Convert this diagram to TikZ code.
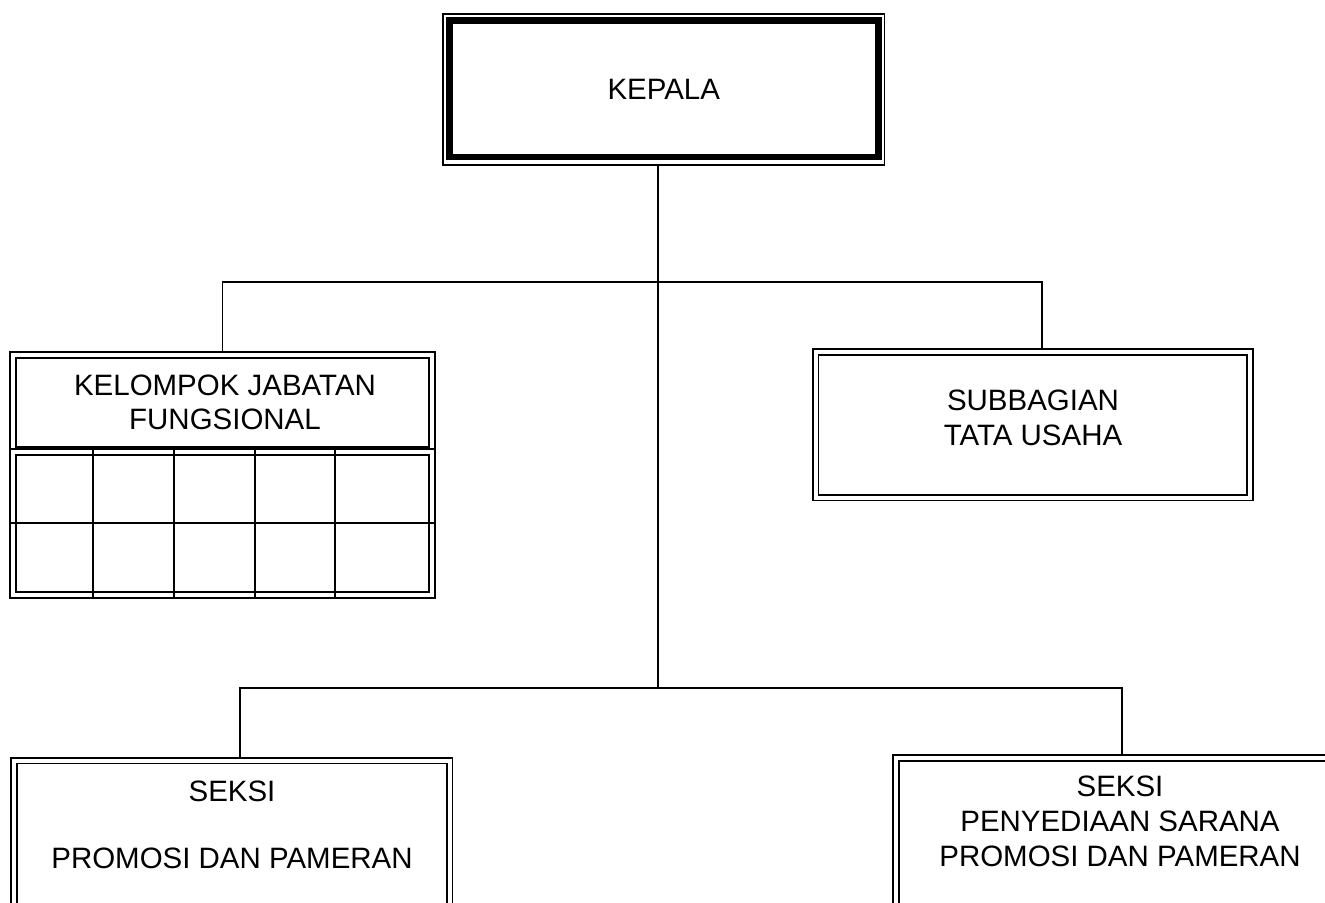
\documentclass[tikz,border=0pt]{standalone}
\usepackage{fontspec}
\setmainfont{Liberation Sans}
\def\px{0.75pt}
\begin{document}
\begin{tikzpicture}[x=0.75pt,y=-0.75pt,
  every node/.style={font=\fontsize{22.1}{26}\selectfont, align=center, inner sep=0pt},
  conn/.style={draw=black, line width=1.2pt},
  dbl/.style={draw=black, fill=white, line width=1.2pt, double=white, double distance=3pt, outer sep=2.7pt},
  kframe/.style={draw=black, fill=white, line width=1.2pt, outer sep=0pt},
  thickframe/.style={draw=black, line width=4.6pt},
  gridline/.style={draw=black, line width=1.2pt}]
\useasboundingbox (0,0) rectangle (1325,903);
\clip (0,0) rectangle (1325,903);

% junction coordinates
\coordinate (jt) at (658,282);
\coordinate (jb) at (658,688);
\coordinate (ja) at (1042,282);
\coordinate (sl) at (240,688);
\coordinate (sr) at (1122,688);

% boxes
\node[kframe, minimum width=441.5*\px, minimum height=151*\px] (kepala) at (663.75,89.5) {KEPALA};
\draw[thickframe] ([shift={(6.5,6.5)}]kepala.north west) rectangle ([shift={(-6,-8)}]kepala.south east);

\node[dbl, minimum width=419*\px, minimum height=95*\px] (kjf) at (222.5,402.5) {};
\node[dbl, minimum width=419*\px, minimum height=143*\px] (kjfgrid) at (222.5,523.5) {};
\node (kjftxt) at (225,402.5) {KELOMPOK JABATAN\\FUNGSIONAL};

\node[dbl, minimum width=434.5*\px, minimum height=145.5*\px] (sub) at (1032.75,424.75) {};
\node (subtxt) at (1033,418) {SUBBAGIAN\\TATA USAHA};

\node[dbl, minimum width=435.5*\px, minimum height=200*\px] (seksia) at (231.75,860.5) {};
\node (seksiatxt) at (232,825) {SEKSI\\[24pt]PROMOSI DAN PAMERAN};

\node[dbl, minimum width=470*\px, minimum height=200*\px] (seksib) at (1131,858) {};
\node (seksibtxt) at (1120,821.5) {SEKSI\\PENYEDIAAN SARANA\\PROMOSI DAN PAMERAN};

% grid inside the functional group
\foreach \gx in {93,174,255,335}
  \draw[gridline] (kjfgrid.north -| \gx,0) -- (kjfgrid.south -| \gx,0);
\draw[gridline] (kjfgrid.west |- 0,523) -- (kjfgrid.east |- 0,523);

% connectors
\draw[conn] (kepala.south -| jt) -- (jb);
\draw[conn] (kjf.north) |- (ja) -- (sub.north -| ja);
\draw[conn] (seksia.north -| sl) -- (sl) -- (sr) -- (seksib.north -| sr);
\end{tikzpicture}
\end{document}
